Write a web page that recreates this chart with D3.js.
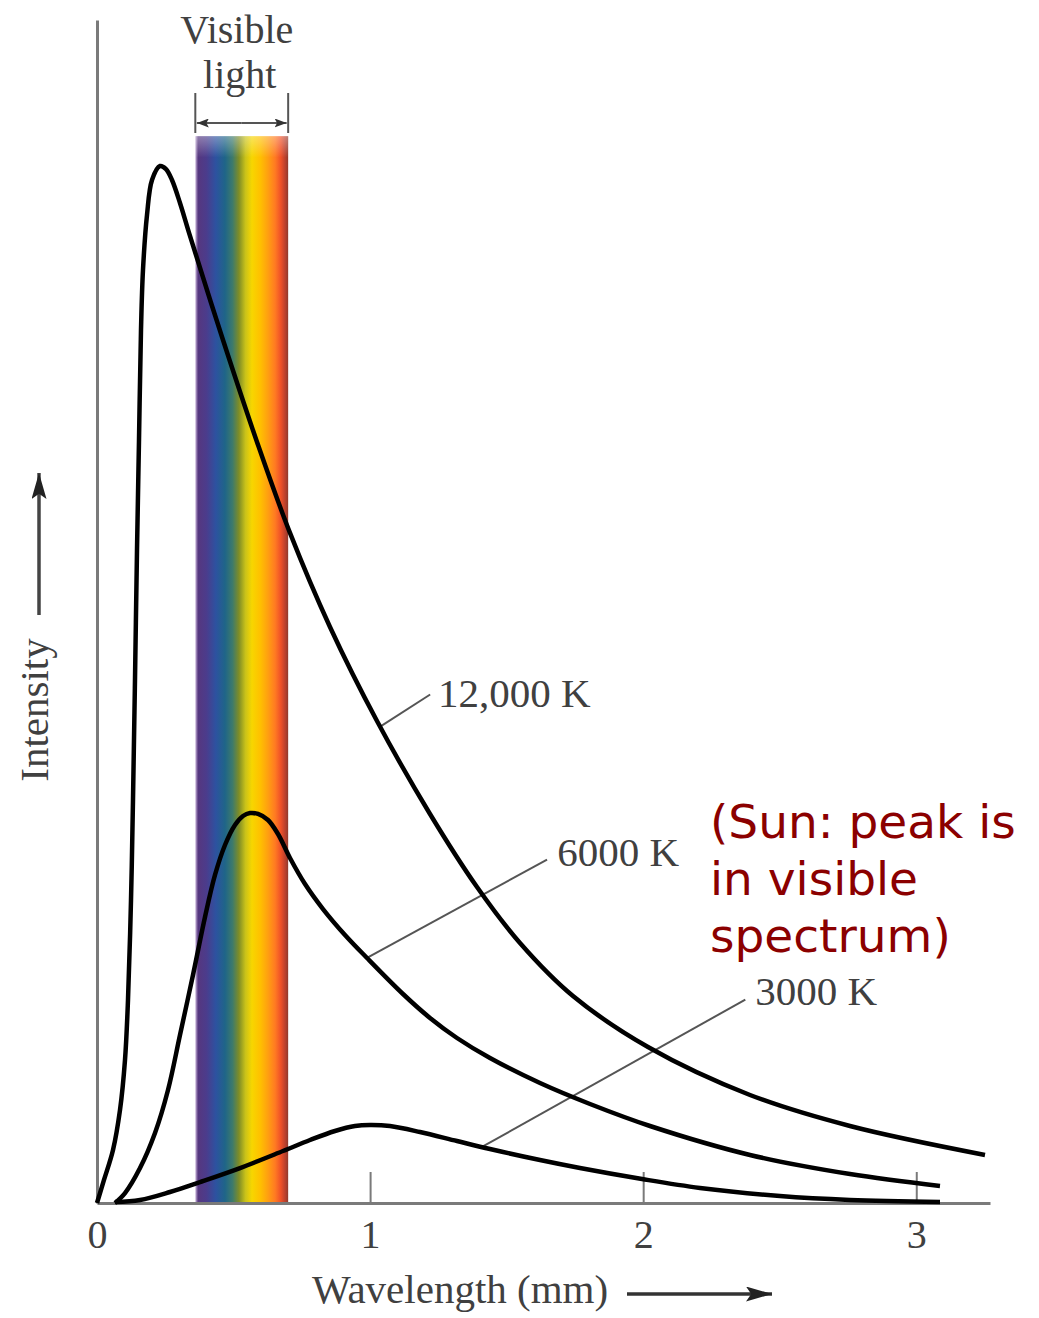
<!DOCTYPE html>
<html>
<head>
<meta charset="utf-8">
<script src="https://cdn.jsdelivr.net/npm/d3@7"></script>
<style>
  html, body { margin: 0; padding: 0; background: #fff; }
  svg { display: block; }
</style>
</head>
<body>
<svg id="chart" width="1039" height="1318"></svg>
<script>
// ---------- data (wavelength in µm, relative intensity) ----------
const wl12000 = [0, 0.0256, 0.0586, 0.0842, 0.1025, 0.1135, 0.1245, 0.1318, 0.1391, 0.1465, 0.1538, 0.1611, 0.1684, 0.1831, 0.2014, 0.2307, 0.2527, 0.2746, 0.3039, 0.3405, 0.4614, 0.5859, 0.7067, 0.8532, 1.0253, 1.2194, 1.3915, 1.5489, 1.7430, 2.0176, 2.3912, 2.7573, 3.2517];
const in12000 = [0, 2.22, 5.11, 8.96, 13.78, 19.56, 29.20, 38.84, 50.40, 62.93, 73.53, 84.13, 89.91, 95.21, 98.58, 99.93, 99.64, 98.58, 96.37, 93.19, 83.16, 73.34, 64.57, 55.51, 46.45, 37.49, 30.45, 25.06, 19.95, 15.03, 10.41, 7.42, 4.63];

const wl6000 = [0.0659, 0.1025, 0.1575, 0.2124, 0.2600, 0.3039, 0.3515, 0.3955, 0.4321, 0.4687, 0.5053, 0.5346, 0.5603, 0.5896, 0.6262, 0.6628, 0.7067, 0.7617, 0.8276, 0.9081, 0.9887, 1.1205, 1.2194, 1.3182, 1.4391, 1.6222, 1.8053, 2.0250, 2.3912, 2.7573, 3.0869];
const in6000 = [0, 0.96, 3.37, 6.75, 10.89, 16.19, 21.97, 27.56, 31.61, 34.50, 36.43, 37.29, 37.58, 37.49, 36.91, 35.56, 33.25, 30.74, 28.33, 25.83, 23.61, 20.14, 17.83, 15.90, 13.97, 11.56, 9.54, 7.42, 4.63, 2.79, 1.64];

const wl3000 = [0.0659, 0.1575, 0.2673, 0.3772, 0.5237, 0.6811, 0.7800, 0.8715, 0.9447, 0.9997, 1.0729, 1.1828, 1.3182, 1.4391, 1.6222, 1.7686, 1.9957, 2.2081, 2.5010, 2.7573, 3.0869];
const in3000 = [0.10, 0.29, 1.06, 2.02, 3.37, 5.01, 6.07, 6.94, 7.42, 7.52, 7.42, 6.84, 5.97, 5.20, 4.14, 3.37, 2.31, 1.45, 0.67, 0.29, 0.10];

const xTicks = [0, 1, 2, 3];
const xTickLabels = ["0", "1", "2", "3"];

const curveNames = ["12,000 K", "6000 K", "3000 K"];
// leader line: anchor on curve -> end near label (µm, intensity); label start
const leaderFromX = [1.037, 0.9887, 1.4098];
const leaderFromY = [45.9, 23.61, 5.40];
const leaderToX = [1.220, 1.648, 2.374];
const leaderToY = [49.0, 33.1, 19.6];
const labelX = [1.249, 1.685, 2.410];
const labelY = [47.8, 32.5, 19.1];

const visibleRange = [0.36, 0.70];
const visibleTop = 102.8;
const spectrumColors = ["#cbb8dc", "#56377f", "#4b3c8c", "#2d52a0", "#1f6588", "#3d7a6c", "#7f8d26", "#c9c21a", "#f7d600", "#ffc000", "#ffa010", "#ff7a22", "#ef5128", "#b9402d", "#8f3a2c"];
const spectrumStops = [0, 0.03, 0.12, 0.22, 0.32, 0.40, 0.47, 0.54, 0.61, 0.70, 0.78, 0.86, 0.92, 0.97, 1];

const sunNote = ["(Sun: peak is", "in visible", "spectrum)"];

// ---------- drawing ----------
const svg = d3.select("#chart");
svg.append("rect").attr("width", 1039).attr("height", 1318).attr("fill", "#fff");

const x = d3.scaleLinear().domain([0, 3.27]).range([97, 990]);
const y = d3.scaleLinear().domain([0, 114]).range([1203, 20]);

const serif = "'Liberation Serif', 'DejaVu Serif', serif";
const textGrey = "#404040";
const axisGrey = "#7a7a7a";

// defs: gradient + arrow markers
const defs = svg.append("defs");
const grad = defs.append("linearGradient").attr("id", "spec")
  .attr("x1", "0%").attr("x2", "100%").attr("y1", "0%").attr("y2", "0%");
spectrumStops.forEach((s, i) => {
  grad.append("stop").attr("offset", s).attr("stop-color", spectrumColors[i]);
});
const vgrad = defs.append("linearGradient").attr("id", "specFade")
  .attr("x1", "0%").attr("x2", "0%").attr("y1", "0%").attr("y2", "100%");
vgrad.append("stop").attr("offset", 0).attr("stop-color", "#fff").attr("stop-opacity", 0.35);
vgrad.append("stop").attr("offset", 0.02).attr("stop-color", "#fff").attr("stop-opacity", 0);
vgrad.append("stop").attr("offset", 1).attr("stop-color", "#fff").attr("stop-opacity", 0);

function marker(id, color, w, h) {
  defs.append("marker").attr("id", id)
    .attr("viewBox", `0 0 ${w} ${h}`).attr("refX", w).attr("refY", h / 2)
    .attr("markerWidth", w).attr("markerHeight", h).attr("markerUnits", "userSpaceOnUse")
    .attr("orient", "auto-start-reverse")
    .append("path").attr("d", `M0,0 L${w},${h/2} L0,${h} L${w*0.2},${h/2} Z`).attr("fill", color);
}
marker("bigArrow", "#222", 26, 15);
marker("smallArrow", "#333", 12, 9);

// visible spectrum band
svg.append("rect")
  .attr("x", x(visibleRange[0])).attr("y", y(visibleTop))
  .attr("width", x(visibleRange[1]) - x(visibleRange[0]))
  .attr("height", y(0) - y(visibleTop))
  .attr("fill", "url(#spec)");
svg.append("rect")
  .attr("x", x(visibleRange[0])).attr("y", y(visibleTop))
  .attr("width", x(visibleRange[1]) - x(visibleRange[0]))
  .attr("height", y(0) - y(visibleTop))
  .attr("fill", "url(#specFade)");

// Visible light bracket
const bracket = svg.append("g").attr("stroke", "#555").attr("stroke-width", 2);
[visibleRange[0], visibleRange[1]].forEach(v => {
  bracket.append("line").attr("x1", x(v)).attr("x2", x(v)).attr("y1", 93).attr("y2", 133);
});
const midX = (x(visibleRange[0]) + x(visibleRange[1])) / 2;
bracket.append("line").attr("x1", midX).attr("x2", x(visibleRange[0]) + 1.5).attr("y1", 123).attr("y2", 123)
  .attr("marker-end", "url(#smallArrow)");
bracket.append("line").attr("x1", midX).attr("x2", x(visibleRange[1]) - 1.5).attr("y1", 123).attr("y2", 123)
  .attr("marker-end", "url(#smallArrow)");

svg.append("text").attr("x", midX - 5).attr("y", 43).attr("text-anchor", "middle")
  .attr("font-family", serif).attr("font-size", 40).attr("fill", textGrey).text("Visible");
svg.append("text").attr("x", midX - 2).attr("y", 88).attr("text-anchor", "middle")
  .attr("font-family", serif).attr("font-size", 40).attr("fill", textGrey).text("light");

// axes
const xAxis = d3.axisBottom(x).tickValues(xTicks).tickFormat((d, i) => xTickLabels[i])
  .tickSizeInner(-31).tickSizeOuter(0).tickPadding(17);
const gx = svg.append("g").attr("transform", `translate(0,${y(0)})`).call(xAxis);
gx.select(".domain").attr("stroke", axisGrey).attr("stroke-width", 3);
gx.selectAll(".tick line").attr("stroke", axisGrey).attr("stroke-width", 2);
gx.selectAll(".tick text").attr("font-family", serif).attr("font-size", 40).attr("fill", textGrey);

const yAxis = d3.axisLeft(y).tickValues([]).tickSizeOuter(0);
const gy = svg.append("g").attr("transform", `translate(${x(0)},0)`).call(yAxis);
gy.select(".domain").attr("stroke", axisGrey).attr("stroke-width", 3);

// axis titles with arrows
svg.append("text").attr("x", 312).attr("y", 1303)
  .attr("font-family", serif).attr("font-size", 41).attr("fill", textGrey).text("Wavelength (mm)");
svg.append("line").attr("x1", 627).attr("x2", 772).attr("y1", 1294).attr("y2", 1294)
  .attr("stroke", "#333").attr("stroke-width", 3.5).attr("marker-end", "url(#bigArrow)");

svg.append("text").attr("transform", "translate(48,710) rotate(-90)").attr("text-anchor", "middle")
  .attr("font-family", serif).attr("font-size", 41).attr("fill", textGrey).text("Intensity");
svg.append("line").attr("x1", 39).attr("x2", 39).attr("y1", 615).attr("y2", 473)
  .attr("stroke", "#444").attr("stroke-width", 3.5).attr("marker-end", "url(#bigArrow)");

// leader lines and labels
curveNames.forEach((name, i) => {
  svg.append("line")
    .attr("x1", x(leaderFromX[i])).attr("y1", y(leaderFromY[i]))
    .attr("x2", x(leaderToX[i])).attr("y2", y(leaderToY[i]))
    .attr("stroke", "#555").attr("stroke-width", 2);
  svg.append("text").attr("x", x(labelX[i])).attr("y", y(labelY[i]))
    .attr("font-family", serif).attr("font-size", 41).attr("fill", textGrey).text(name);
});

// curves
const line = d3.line().x(d => x(d[0])).y(d => y(d[1])).curve(d3.curveCatmullRom.alpha(0.5));
const series = [
  d3.zip(wl12000, in12000),
  d3.zip(wl6000, in6000),
  d3.zip(wl3000, in3000)
];
svg.append("g").selectAll("path").data(series).join("path")
  .attr("d", line).attr("fill", "none").attr("stroke", "#000")
  .attr("stroke-width", 4.5).attr("stroke-linejoin", "round");

// Sun annotation
const note = svg.append("text").attr("font-family", "'DejaVu Sans', sans-serif")
  .attr("font-size", 47).attr("fill", "#8b0000");
sunNote.forEach((t, i) => {
  note.append("tspan").attr("x", 710).attr("y", 838 + i * 57).text(t);
});
</script>
</body>
</html>
